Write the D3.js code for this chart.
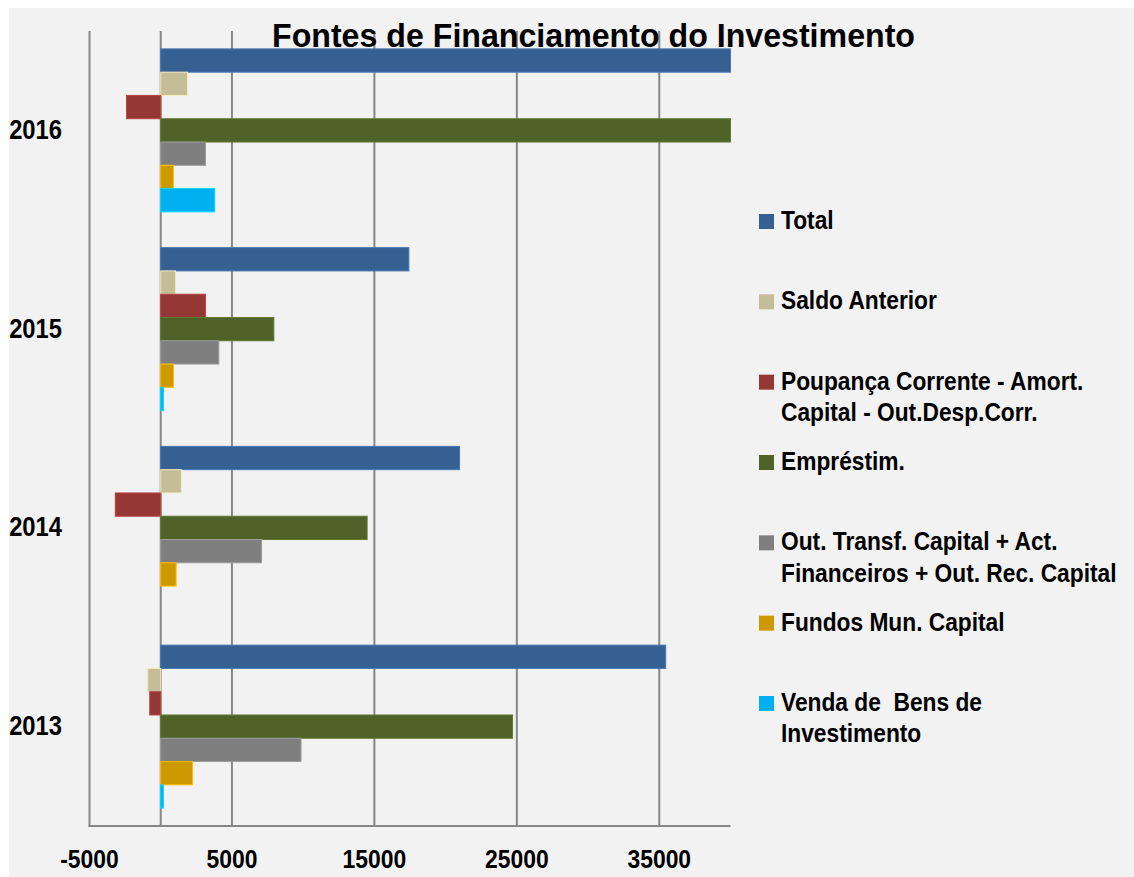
<!DOCTYPE html>
<html>
<head>
<meta charset="utf-8">
<script src="https://cdn.jsdelivr.net/npm/d3@7"></script>
<style>
  html, body { margin: 0; padding: 0; background: #ffffff; }
  svg { display: block; }
</style>
</head>
<body>
<svg id="chart" width="1134" height="877"></svg>
<script>
// ---- data ----
const years = ["2016", "2015", "2014", "2013"]; // top to bottom
const seriesNames = [
  "Total",
  "Saldo Anterior",
  "Poupança Corrente - Amort. Capital - Out.Desp.Corr.",
  "Empréstim.",
  "Out. Transf. Capital + Act. Financeiros + Out. Rec. Capital",
  "Fundos Mun. Capital",
  "Venda de  Bens de Investimento"
];
const legendLines = [
  ["Total"],
  ["Saldo Anterior"],
  ["Poupança Corrente - Amort.", "Capital - Out.Desp.Corr."],
  ["Empréstim."],
  ["Out. Transf. Capital + Act.", "Financeiros + Out. Rec. Capital"],
  ["Fundos Mun. Capital"],
  ["Venda de  Bens de", "Investimento"]
];
const colors = ["#366092", "#C4BD97", "#953735", "#4F6228", "#7F7F7F", "#CC9900", "#00B0F0"];
// values per series, in the order of `years`
const total      = [48300, 17420, 20980, 35450];
const saldo      = [1880, 1040, 1450, -910];
const poupanca   = [-2400, 3150, -3190, -770];
const emprestim  = [41000, 7940, 14490, 24700];
const outTransf  = [3140, 4080, 7080, 9850];
const fundosMun  = [890, 900, 1080, 2230];
const vendaBens  = [3790, 190, 0, 190];
const seriesValues = [total, saldo, poupanca, emprestim, outTransf, fundosMun, vendaBens];
const xTicks = [-5000, 5000, 15000, 25000, 35000];
const xDomain = [-5000, 40000];
const title = "Fontes de Financiamento do Investimento";

// ---- layout ----
const svg = d3.select("#chart");
const W = 1134, H = 877;
const plot = { left: 89.5, right: 730.5, top: 31, bottom: 826 };
const font = "'Liberation Sans', Arial, sans-serif";
const narrowK = 0.88;

svg.append("rect").attr("x", 9).attr("y", 8).attr("width", W - 9).attr("height", H - 8).attr("fill", "#F2F2F2");

const x = d3.scaleLinear().domain(xDomain).range([plot.left, plot.right]).clamp(true);
const y0 = d3.scaleBand().domain(years).range([plot.top, plot.bottom]).paddingInner(0.18).paddingOuter(0.09);
const y1 = d3.scaleBand().domain(d3.range(seriesNames.length)).range([0, y0.bandwidth()]).padding(0);

// gridlines (ticks + zero line)
const gridVals = xTicks.concat([0]);
svg.append("g").selectAll("line").data(gridVals).join("line")
  .attr("x1", d => x(d)).attr("x2", d => x(d))
  .attr("y1", plot.top).attr("y2", plot.bottom)
  .attr("stroke", "#868686").attr("stroke-width", 2);

// title
svg.append("text")
  .attr("x", 593.5).attr("y", 46.5)
  .attr("text-anchor", "middle")
  .attr("font-family", font).attr("font-weight", "bold").attr("font-size", 34)
  .attr("textLength", 643).attr("lengthAdjust", "spacingAndGlyphs")
  .attr("fill", "#000")
  .text(title);

// bars
const groups = svg.append("g").selectAll("g").data(years).join("g")
  .attr("transform", d => `translate(0,${y0(d)})`);
groups.selectAll("rect").data((yr, i) => seriesValues.map((vals, s) => ({ s, v: vals[i] })))
  .join("rect")
  .attr("x", d => x(Math.min(0, d.v)))
  .attr("width", d => Math.abs(x(d.v) - x(0)))
  .attr("y", d => y1(d.s))
  .attr("height", y1.bandwidth())
  .attr("fill", d => colors[d.s])
  .attr("stroke", d => d.v === 0 ? "none" : d3.color(colors[d.s]).brighter(0.6))
  .attr("stroke-width", 1);

// bottom axis line
svg.append("line")
  .attr("x1", plot.left - 1).attr("x2", plot.right)
  .attr("y1", plot.bottom).attr("y2", plot.bottom)
  .attr("stroke", "#868686").attr("stroke-width", 2);

// x tick labels
svg.append("g").selectAll("text").data(xTicks).join("text")
  .attr("transform", d => `translate(${x(d)},867.5) scale(${narrowK},1)`)
  .attr("text-anchor", "middle")
  .attr("font-family", font).attr("font-weight", "bold").attr("font-size", 26)
  .attr("fill", "#000")
  .text(d => d);

// y category labels
svg.append("g").selectAll("text").data(years).join("text")
  .attr("transform", d => `translate(62,${y0(d) + y0.bandwidth() / 2 + 8.5}) scale(${narrowK},1)`)
  .attr("text-anchor", "end")
  .attr("font-family", font).attr("font-weight", "bold").attr("font-size", 27)
  .attr("fill", "#000")
  .text(d => d);

// legend
const legend = svg.append("g");
const legY = d3.scaleLinear().domain([0, seriesNames.length - 1]).range([229, 711]);
const items = legend.selectAll("g").data(seriesNames).join("g")
  .attr("transform", (d, i) => `translate(0,${legY(i)})`);
items.append("rect")
  .attr("x", 759).attr("y", -15).attr("width", 15).attr("height", 15)
  .attr("fill", (d, i) => colors[i]);
items.append("text")
  .attr("transform", "translate(781,0) scale(0.91,1)")
  .attr("font-family", font).attr("font-weight", "bold").attr("font-size", 25)
  .attr("fill", "#000")
  .each(function(d, i) {
    d3.select(this).selectAll("tspan").data(legendLines[i]).join("tspan")
      .attr("x", 0).attr("y", (t, j) => j * 31.5)
      .attr("xml:space", "preserve")
      .text(t => t);
  });
</script>
</body>
</html>
